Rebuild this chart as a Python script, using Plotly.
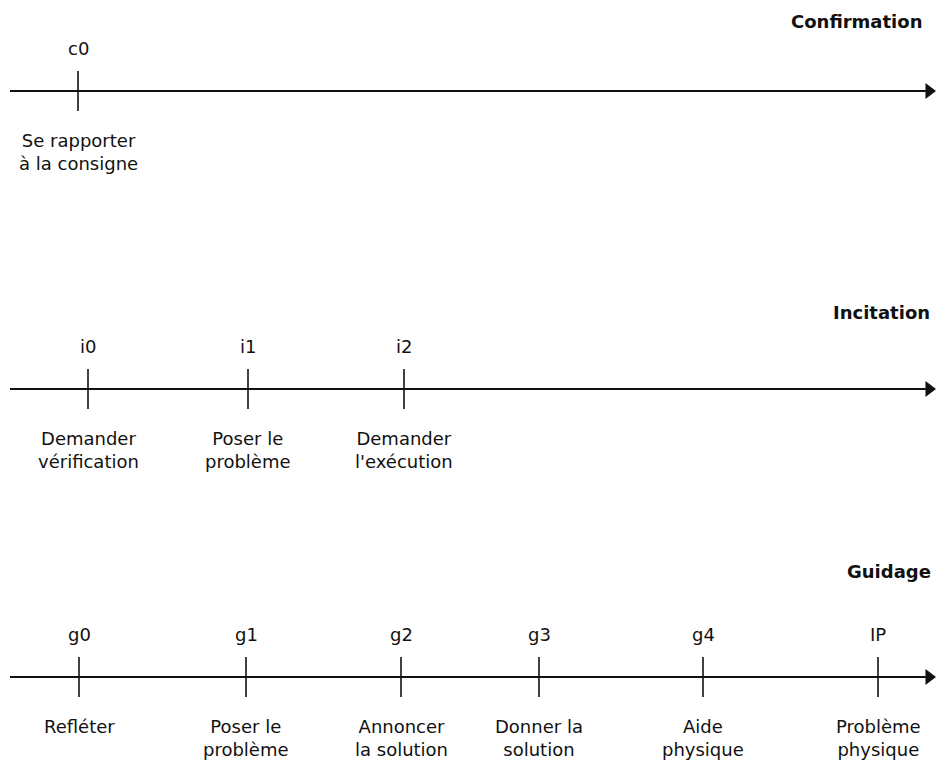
import plotly.graph_objects as go

# ---- data ----
row_titles = ["Confirmation", "Incitation", "Guidage"]

conf_codes = ["c0"]
conf_pos = [78]
conf_labels = ["Se rapporter<br>à la consigne"]

inc_codes = ["i0", "i1", "i2"]
inc_pos = [88, 248, 404]
inc_labels = ["Demander<br>vérification", "Poser le<br>problème", "Demander<br>l'exécution"]

gui_codes = ["g0", "g1", "g2", "g3", "g4", "IP"]
gui_pos = [79, 246, 401, 539, 703, 878]
gui_labels = ["Refléter", "Poser le<br>problème", "Annoncer<br>la solution",
              "Donner la<br>solution", "Aide<br>physique", "Problème<br>physique"]

# ---- layout constants ----
W, H = 937, 766
row_y = [91, 389, 677]
title_x = [924, 932, 933]
title_y = [21, 312, 571]
line_x0, line_x1 = 10, 926
arrow_x = 929
tick_half = 20
FONT = "DejaVu Sans"
INK = "#111111"

rows = [
    (conf_codes, conf_pos, conf_labels),
    (inc_codes, inc_pos, inc_labels),
    (gui_codes, gui_pos, gui_labels),
]

fig = go.Figure()
annotations = []

for i, (codes, pos, labels) in enumerate(rows):
    y = row_y[i]
    # main axis line
    fig.add_trace(go.Scatter(x=[line_x0, line_x1], y=[y, y], mode="lines",
                             line=dict(color=INK, width=2), hoverinfo="skip"))
    # arrow head
    fig.add_trace(go.Scatter(x=[arrow_x], y=[y], mode="markers",
                             marker=dict(symbol="triangle-right", size=14, color=INK,
                                         line=dict(width=0)),
                             hoverinfo="skip"))
    # ticks
    tx, ty = [], []
    for p in pos:
        tx += [p, p, None]
        ty += [y - tick_half, y + tick_half, None]
    fig.add_trace(go.Scatter(x=tx, y=ty, mode="lines",
                             line=dict(color=INK, width=1.6), hoverinfo="skip"))
    # row title
    annotations.append(dict(x=title_x[i], y=title_y[i], text="<b>" + row_titles[i] + "</b>",
                            xanchor="right", yanchor="middle", showarrow=False,
                            font=dict(family=FONT, size=18, color=INK)))
    for c, p, lab in zip(codes, pos, labels):
        annotations.append(dict(x=p, y=y - 43, text=c, xanchor="center", yanchor="middle",
                                showarrow=False, font=dict(family=FONT, size=18, color=INK)))
        annotations.append(dict(x=p, y=y + 37, text=lab, xanchor="center", yanchor="top",
                                showarrow=False, align="center",
                                font=dict(family=FONT, size=18, color=INK)))

fig.update_layout(
    width=W, height=H,
    margin=dict(l=0, r=0, t=0, b=0),
    paper_bgcolor="white", plot_bgcolor="white",
    showlegend=False,
    xaxis=dict(range=[0, W], visible=False, fixedrange=True),
    yaxis=dict(range=[H, 0], visible=False, fixedrange=True),
    annotations=annotations,
)

fig.write_html("out.html", config={"displayModeBar": False},
               post_script="document.body.style.margin='0';document.body.style.overflow='hidden';")
